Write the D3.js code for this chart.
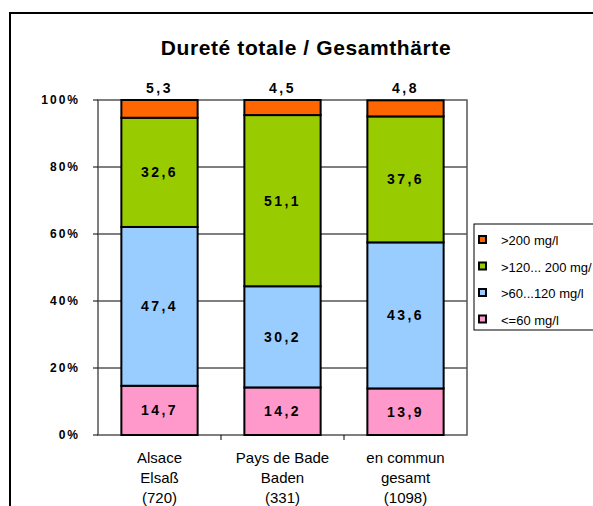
<!DOCTYPE html>
<html>
<head>
<meta charset="utf-8">
<script src="https://cdnjs.cloudflare.com/ajax/libs/d3/7.8.5/d3.min.js"></script>
<style>
  body { margin: 0; background: #fff; }
  svg { display: block; font-family: Arial, "Liberation Sans", sans-serif; }
</style>
</head>
<body>
<svg width="593" height="506"></svg>
<script>
var svg = d3.select('svg');

// Data
var categories = ['Alsace', 'Pays de Bade', 'en commun'];
var catLine2 = ['Elsaß', 'Baden', 'gesamt'];
var catLine3 = ['(720)', '(331)', '(1098)'];
var seriesNames = ['<=60 mg/l', '>60...120 mg/l', '>120... 200 mg/', '>200 mg/l'];
var seriesColors = ['#FF99CC', '#99CCFF', '#99CC00', '#FF6600'];
var s1 = [14.7, 14.2, 13.9];
var s2 = [47.4, 30.2, 43.6];
var s3 = [32.6, 51.1, 37.6];
var s4 = [5.3, 4.5, 4.8];
var yTicks = [0, 20, 40, 60, 80, 100];

var seriesValues = [s1, s2, s3, s4];

// Layout
var plot = {l: 98, t: 100, r: 467, b: 435};

var x = d3.scaleBand().domain(categories).range([plot.l, plot.r]).paddingInner(0.38).paddingOuter(0.19);
var y = d3.scaleLinear().domain([0, 100]).range([plot.b, plot.t]);

// Outer frame
svg.append('rect')
    .attr('x', 10).attr('y', 13)
    .attr('width', 600).attr('height', 520)
    .attr('fill', 'none').attr('stroke', '#000').attr('stroke-width', 2);

// Title
svg.append('text')
    .attr('x', 306).attr('y', 55)
    .attr('text-anchor', 'middle')
    .attr('font-size', 21).attr('font-weight', 'bold')
    .attr('letter-spacing', 0.6)
    .text('Dureté totale / Gesamthärte');

// Gridlines
svg.selectAll('.grid')
    .data(yTicks.filter(function(d){ return d > 0 && d < 100; }))
    .enter().append('line')
    .attr('x1', plot.l).attr('x2', plot.r)
    .attr('y1', function(d){ return y(d); }).attr('y2', function(d){ return y(d); })
    .attr('stroke', '#000').attr('stroke-width', 1);

// Plot frame
svg.append('rect')
    .attr('x', plot.l).attr('y', plot.t)
    .attr('width', plot.r - plot.l).attr('height', plot.b - plot.t)
    .attr('fill', 'none').attr('stroke', '#555').attr('stroke-width', 1.5);

// Stacked bars
var stacked = categories.map(function(c, i){
    var base = 0;
    return seriesValues.map(function(s, k){
        var seg = {cat: c, i: i, k: k, y0: base, y1: base + s[i], v: s[i]};
        base += s[i];
        return seg;
    });
});
var segs = [].concat.apply([], stacked);

svg.selectAll('.seg')
    .data(segs)
    .enter().append('rect')
    .attr('class', 'seg')
    .attr('x', function(d){ return x(d.cat); })
    .attr('width', x.bandwidth())
    .attr('y', function(d){ return y(Math.min(d.y1, 100)); })
    .attr('height', function(d){ return y(d.y0) - y(Math.min(d.y1, 100)); })
    .attr('fill', function(d){ return seriesColors[d.k]; })
    .attr('stroke', '#000').attr('stroke-width', 2);

// Value labels
var fmt = function(v){ return d3.format('.1f')(v).replace('.', ','); };
svg.selectAll('.lbl')
    .data(segs)
    .enter().append('text')
    .attr('class', 'lbl')
    .attr('x', function(d){ return x(d.cat) + x.bandwidth() / 2; })
    .attr('y', function(d){
        if (d.k === 3) return plot.t - 7;
        return y((d.y0 + d.y1) / 2) + 5;
    })
    .attr('text-anchor', 'middle')
    .attr('font-size', 14).attr('font-weight', 'bold')
    .attr('letter-spacing', 2.5)
    .text(function(d){ return fmt(d.v); });

// Y axis
var yAxisG = svg.append('g');
yTicks.forEach(function(t){
    yAxisG.append('line')
        .attr('x1', plot.l - 5).attr('x2', plot.l)
        .attr('y1', y(t)).attr('y2', y(t))
        .attr('stroke', '#000');
    yAxisG.append('text')
        .attr('x', plot.l - 18).attr('y', y(t) + 4)
        .attr('text-anchor', 'end')
        .attr('font-size', 12).attr('font-weight', 'bold')
        .attr('letter-spacing', 2)
        .text(t + '%');
});

// X axis ticks between categories
[1, 2].forEach(function(i){
    var xp = plot.l + i * (plot.r - plot.l) / 3;
    svg.append('line')
        .attr('x1', xp).attr('x2', xp)
        .attr('y1', plot.b).attr('y2', plot.b + 5)
        .attr('stroke', '#000');
});

// X labels
categories.forEach(function(c, i){
    var cx = x(c) + x.bandwidth() / 2;
    [c, catLine2[i], catLine3[i]].forEach(function(t, j){
        svg.append('text')
            .attr('x', cx).attr('y', 463 + j * 20)
            .attr('text-anchor', 'middle')
            .attr('font-size', 15)
            .text(t);
    });
});

// Legend
var leg = svg.append('g');
leg.append('rect')
    .attr('x', 474).attr('y', 224)
    .attr('width', 130).attr('height', 106)
    .attr('fill', '#fff').attr('stroke', '#000').attr('stroke-width', 1);
[3, 2, 1, 0].forEach(function(k, j){
    var ly = 240 + j * 26.5;
    leg.append('rect')
        .attr('x', 479).attr('y', ly - 4)
        .attr('width', 7).attr('height', 7)
        .attr('fill', seriesColors[k]).attr('stroke', '#000').attr('stroke-width', 2);
    leg.append('text')
        .attr('x', 501).attr('y', ly + 5)
        .attr('font-size', 13)
        .text(seriesNames[k]);
});
</script>
</body>
</html>
